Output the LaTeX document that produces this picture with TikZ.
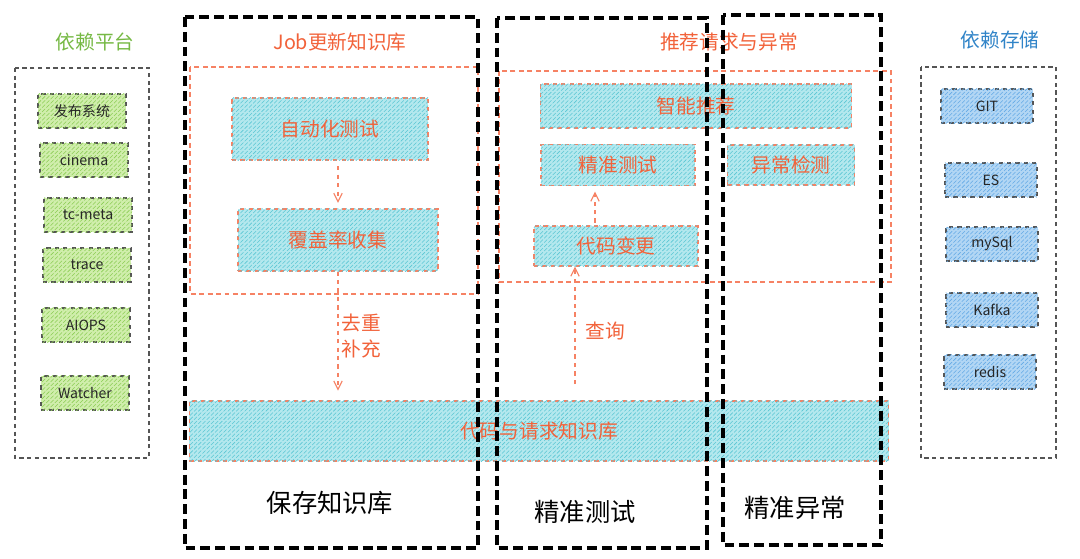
\documentclass[tikz,border=0pt]{standalone}
\usepackage{fontspec}
\setmainfont{Noto Sans CJK SC}
\definecolor{dgorange}{RGB}{242,98,58}
\definecolor{dgline}{RGB}{246,130,100}
\definecolor{dgcyan}{RGB}{180,232,238}
\definecolor{dgcyanhatch}{RGB}{90,198,212}
\definecolor{dggreen}{RGB}{208,238,172}
\definecolor{dggreenhatch}{RGB}{140,205,85}
\definecolor{dgblue}{RGB}{178,214,244}
\definecolor{dgbluehatch}{RGB}{100,170,230}
\definecolor{dggray}{RGB}{85,85,85}
\definecolor{dgtitlegreen}{RGB}{118,185,68}
\definecolor{dgtitleblue}{RGB}{48,132,200}
\usetikzlibrary{arrows.meta,patterns}

\begin{document}
\begin{tikzpicture}[x=0.025cm, y=-0.025cm,
    cbox/.style={rectangle, draw=dgline, dashed, thick, fill=dgcyan,
      postaction={pattern=north east lines, pattern color=dgcyanhatch},
      text=dgorange, inner sep=0pt, font=\fontsize{14}{16}\selectfont},
    gbox/.style={rectangle, draw=dggray, dashed, thick, fill=dggreen,
      postaction={pattern=north east lines, pattern color=dggreenhatch},
      minimum width=2.2cm, minimum height=0.85cm, inner sep=0pt, text=black!85,
      font=\fontsize{10}{12}\selectfont},
    bbox/.style={rectangle, draw=dggray, dashed, thick, fill=dgblue,
      postaction={pattern=north east lines, pattern color=dgbluehatch},
      minimum width=2.3cm, minimum height=0.85cm, inner sep=0pt, text=black!85,
      font=\fontsize{10}{12}\selectfont},
    region/.style={draw=dgline, dash pattern=on 3.5pt off 2.5pt, line width=0.9pt},
    holder/.style={draw=dggray, dash pattern=on 3pt off 2.5pt, line width=0.8pt},
    frame/.style={draw=black, line width=2.6pt, dash pattern=on 7pt off 3.5pt},
    flow/.style={-{Straight Barb[length=6pt, width=6pt]}, dgline, dashed, thick},
    title/.style={font=\fontsize{14}{16}\selectfont},
    tag/.style={font=\fontsize{18}{20}\selectfont}
  ]
    \fill[white] (0,0) rectangle (1080,559);
    \useasboundingbox (0,0) rectangle (1080,559);

    % Titles
    \node[title, text=dgtitlegreen] (t1) at (95,42)   {依赖平台};
    \node[title, text=dgorange]     (t2) at (340,42)  {Job更新知识库};
    \node[title, text=dgorange]     (t3) at (729,42)  {推荐请求与异常};
    \node[title, text=dgtitleblue]  (t4) at (1000,40) {依赖存储};

    % Dependent platforms
    \draw[holder] (15,68) rectangle (149,458);
    \node[gbox] (pub)     at (82,111)    {发布系统};
    \node[gbox] (cinema)  at (84,160)    {cinema};
    \node[gbox] (tcmeta)  at (88,215)    {tc-meta};
    \node[gbox] (trace)   at (87,265)    {trace};
    \node[gbox] (aiops)   at (86,325)    {AIOPS};
    \node[gbox] (watcher) at (85,393)    {Watcher};

    % Dependent storage
    \draw[holder] (921,67) rectangle (1056,458);
    \node[bbox] (git)   at (987,106) {GIT};
    \node[bbox] (es)    at (991,180) {ES};
    \node[bbox] (mysql) at (992,244) {mySql};
    \node[bbox] (kafka) at (992,310) {Kafka};
    \node[bbox] (redis) at (990,372) {redis};

    % Job regions
    \draw[region] (190,67) rectangle (478,294);
    \draw[region] (499,71) rectangle (891,282);

    % Knowledge base
    \node[cbox, minimum width=17.475cm, minimum height=1.5cm] (kb) at (539,431) {代码与请求知识库};

    % Job boxes
    \node[cbox, minimum width=4.9cm,  minimum height=1.55cm] (auto)   at (330,129) {自动化测试};
    \node[cbox, minimum width=5.0cm,  minimum height=1.55cm] (cov)    at (338,240) {覆盖率收集};
    \node[cbox, minimum width=7.775cm,minimum height=1.1cm]  (smart)  at (696,106) {智能推荐};
    \node[cbox, minimum width=3.85cm, minimum height=1.025cm](prec)   at (618,165) {精准测试};
    \node[cbox, minimum width=3.175cm,minimum height=1.0cm]  (anom)   at (791,165) {异常检测};
    \node[cbox, minimum width=4.1cm,  minimum height=1.0cm]  (change) at (616,246) {代码变更};

    % Flows
    \coordinate (q) at (575,384);
    \draw[flow, shorten <=4pt, shorten >=4pt] (auto.south -| cov.south) -- (cov.north);
    \draw[flow, shorten >=7pt] (cov.south) -- (cov.south |- kb.north)
      node[midway, right, text=dgorange, align=left, inner sep=2pt,
        font=\fontsize{14}{18}\selectfont] {去重\\补充};
    \draw[flow] (q) -- (q |- change.south)
      node[pos=0.45, right=4pt, text=dgorange, title] {查询};
    \draw[flow, shorten <=2pt, shorten >=4pt] ([xshift=-0.525cm]change.north) -- ([xshift=-0.525cm]change.north |- prec.south);

    % Stage frames
    \draw[frame] (185,17) rectangle (478,548);
    \draw[frame] (497,18) rectangle (707,548);
    \draw[frame] (723,15) rectangle (881,545);
    \node[tag] (save) at (330,503) {保存知识库};
    \node[tag] (pt)   at (585,512) {精准测试};
    \node[tag] (pa)   at (795,508) {精准异常};
\end{tikzpicture}
\end{document}
